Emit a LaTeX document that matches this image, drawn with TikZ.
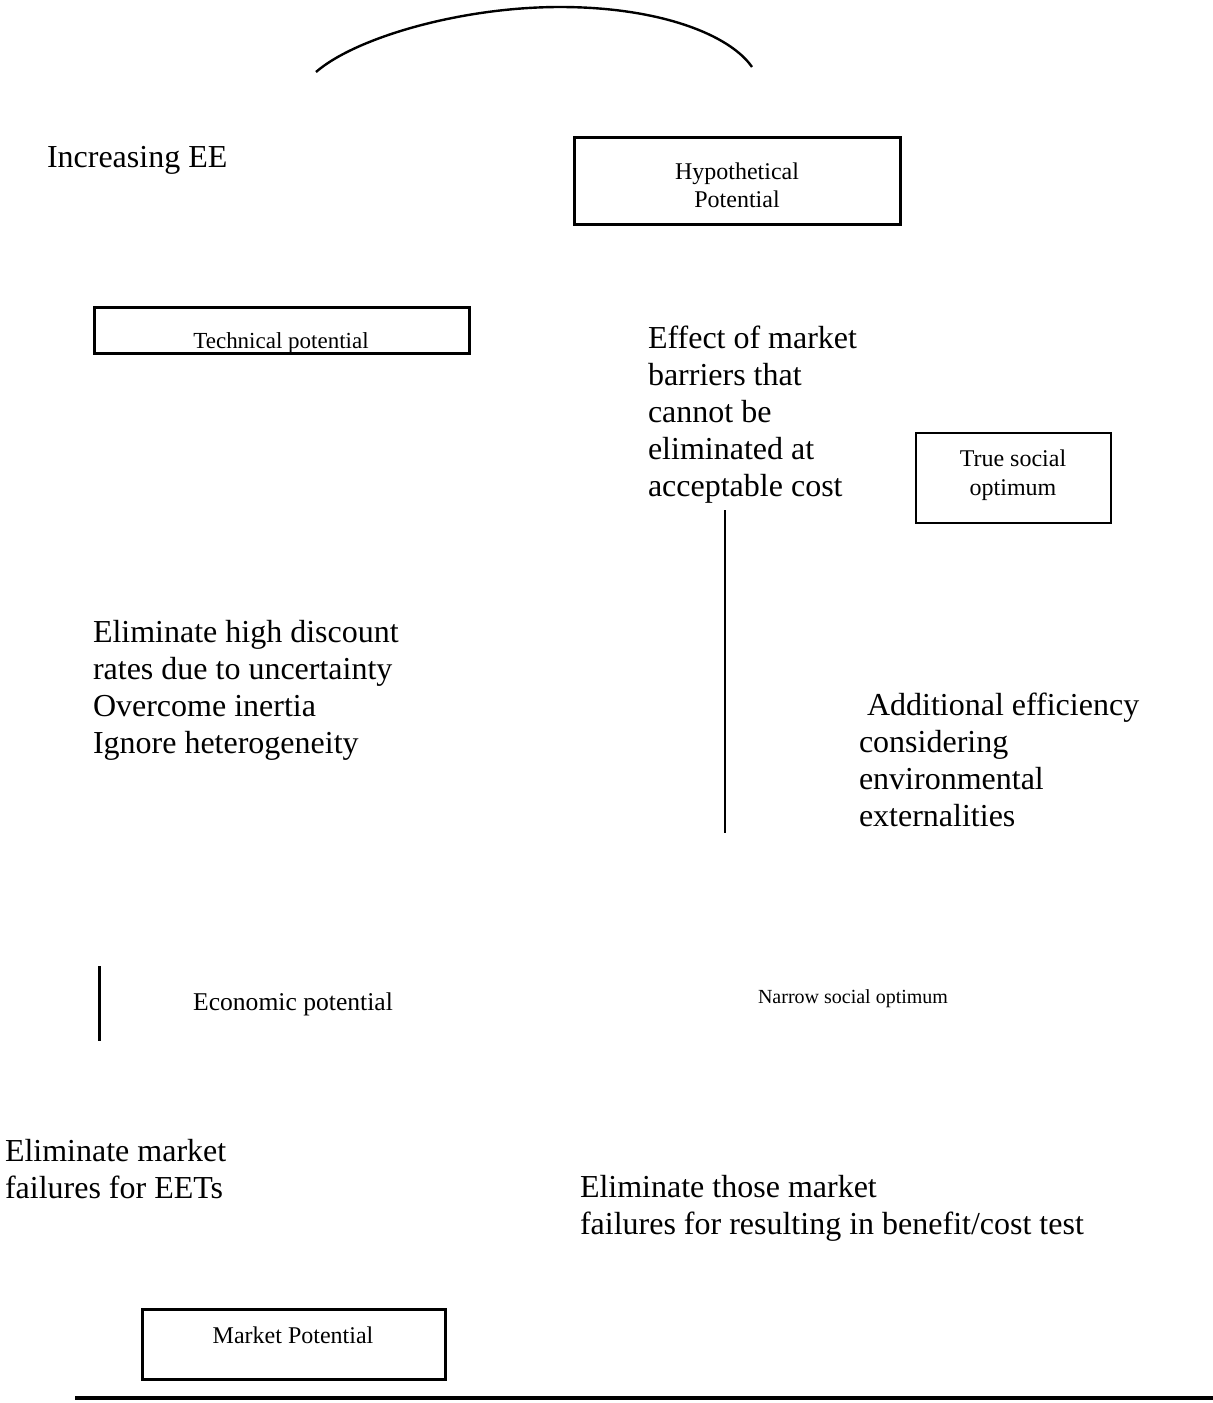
\documentclass[tikz,border=0pt]{standalone}
\usepackage{fontspec}
\setmainfont{Liberation Serif}
\begin{document}
\begin{tikzpicture}[x=0.5pt,y=-0.5pt,
  every node/.style={inner sep=0pt, outer sep=0pt},
  bigtext/.style={font=\fontsize{16}{18.5}\selectfont, align=left, anchor=north west},
  smalltext/.style={font=\fontsize{12}{14}\selectfont, align=center},
  framebox/.style={draw, line width=1.5pt},
  rule/.style={line width=1.5pt},
  thinrule/.style={line width=1pt}]
\useasboundingbox (0,0) rectangle (1213,1403);

% arc over the top
\coordinate (arcL) at (316,72);
\coordinate (arcTop) at (560,7);
\coordinate (arcR) at (752,67);
\draw[line width=1.2pt] (arcL) .. controls (355,38) and (460,7) .. (arcTop)
  .. controls (660,7) and (730,35) .. (arcR);

% label at the upper left
\node[font=\fontsize{16}{18.5}\selectfont, anchor=base west] (incr) at (47,167) {Increasing EE};

% framed potentials
\node[framebox, minimum width=163pt, minimum height=43.5pt] (hypo) at (737,180.5) {};
\node[smalltext, font=\fontsize{12}{14}\selectfont, anchor=north] (hypotxt) at (737,163) {Hypothetical\\Potential};

\node[framebox, minimum width=187.5pt, minimum height=23pt] (tech) at (281.5,330) {};
\node[font=\fontsize{11.5}{14}\selectfont, anchor=base] (techtxt) at (281,348) {Technical potential};

\node[draw, line width=1pt, minimum width=97.5pt, minimum height=45pt] (truesoc) at (1013.5,478) {};
\node[smalltext, font=\fontsize{12}{14.5}\selectfont, anchor=north] (truesoctxt) at (1013,450) {True social\\optimum};

\node[framebox, minimum width=151.5pt, minimum height=35pt] (market) at (293.5,1344) {};
\node[font=\fontsize{12}{14}\selectfont, anchor=base] (markettxt) at (293,1343) {Market Potential};

% explanatory text blocks
\node[bigtext] (barriers) at (648,326) {Effect of market\\barriers that\\cannot be\\eliminated at\\acceptable cost};
\node[bigtext] (discount) at (93,620) {Eliminate high discount\\rates due to uncertainty\\Overcome inertia\\Ignore heterogeneity};
\node[bigtext] (addeff) at (859,693) {\ Additional efficiency\\considering\\environmental\\externalities};
\node[bigtext] (mfail) at (5,1139) {Eliminate market\\failures for EETs};
\node[bigtext] (those) at (580,1175) {Eliminate those market\\failures for resulting in benefit/cost test};

% plain labels
\node[font=\fontsize{12.8}{15}\selectfont, anchor=base] (econ) at (293,1010) {Economic potential};
\node[font=\fontsize{10}{12}\selectfont, anchor=base] (narrow) at (853,1003) {Narrow social optimum};

% vertical strokes
\coordinate (vTop) at (725,510);
\coordinate (vBot) at (725,833);
\draw[thinrule] (vTop) -- (vBot);
\coordinate (barTop) at (99,966);
\coordinate (barBot) at (99,1041);
\draw[rule] (barTop) -- (barBot);

% base line
\coordinate (baseL) at (75,1398);
\coordinate (baseR) at (1213,1398);
\draw[line width=1.7pt] (baseL) -- (baseR);
\end{tikzpicture}
\end{document}
